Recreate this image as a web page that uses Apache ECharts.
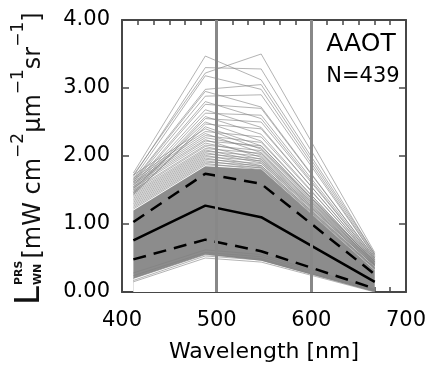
<!DOCTYPE html>
<html><head><meta charset="utf-8">
<script src="https://cdn.jsdelivr.net/npm/echarts@6/dist/echarts.min.js"></script>
<style>html,body{margin:0;padding:0;background:#fff}#c{width:430px;height:370px}</style>
</head><body><div id="c"></div>
<script>
// wavelengths (nm)
const bands = [412, 488, 547, 667];
// mean and +/- 1 std spectra
const meanSpec  = [0.76, 1.27, 1.10, 0.15];
const upperSpec = [1.03, 1.74, 1.59, 0.26];
const lowerSpec = [0.48, 0.77, 0.60, 0.05];
// envelope of the densely overlapping spectra
const denseLow  = [0.20, 0.55, 0.46, 0.00];
const denseHigh = [1.20, 1.85, 1.80, 0.32];
// individual spectra visible outside the dense core  [412, 488, 547, 667]
const spectra = [
  [1.75, 3.47, 3.12, 0.56], [1.72, 3.22, 3.50, 0.58], [1.70, 3.30, 3.28, 0.55],
  [1.66, 3.18, 2.98, 0.52], [1.64, 2.98, 3.05, 0.54], [1.62, 2.95, 2.72, 0.50],
  [1.60, 2.88, 2.90, 0.52], [1.57, 2.80, 2.55, 0.47], [1.55, 2.76, 2.70, 0.50],
  [1.53, 2.68, 2.42, 0.45], [1.50, 2.63, 2.60, 0.49], [1.48, 2.58, 2.32, 0.44],
  [1.46, 2.55, 2.50, 0.48], [1.52, 2.50, 2.22, 0.42], [1.43, 2.47, 2.40, 0.47],
  [1.45, 2.43, 2.15, 0.40],
  [1.72, 2.40, 2.10, 0.45], [1.68, 2.36, 2.28, 0.46], [1.65, 2.33, 2.05, 0.42],
  [1.62, 2.30, 2.20, 0.44], [1.60, 2.27, 2.12, 0.43], [1.58, 2.24, 1.98, 0.40],
  [1.55, 2.22, 2.15, 0.44], [1.53, 2.19, 2.02, 0.41], [1.50, 2.16, 2.08, 0.42],
  [1.48, 2.14, 1.95, 0.39], [1.46, 2.11, 2.04, 0.41], [1.44, 2.09, 1.92, 0.38],
  [1.42, 2.07, 2.00, 0.40], [1.40, 2.05, 1.90, 0.38], [1.38, 2.03, 1.96, 0.39],
  [1.36, 2.01, 1.86, 0.36], [1.34, 1.99, 1.93, 0.38], [1.32, 1.97, 1.84, 0.35],
  [1.30, 1.95, 1.89, 0.36], [1.28, 1.93, 1.82, 0.34], [1.26, 1.91, 1.86, 0.35],
  [1.24, 1.89, 1.80, 0.33], [1.22, 1.87, 1.83, 0.34],
  [0.15, 0.50, 0.44, 0.00], [0.17, 0.53, 0.47, 0.01], [0.20, 0.55, 0.49, 0.02],
  [0.24, 0.58, 0.52, 0.03], [0.28, 0.62, 0.55, 0.04]
];
const refLines = [500, 600];
const stationName = 'AAOT';
const countLabel = 'N=439';

const FONT = 'DejaVu Sans';
const pts = v => bands.map((b, i) => [b, v[i]]);
const series = [];
// dense core: grey area up to the high envelope, white area up to the low envelope
series.push({type:'line', data: pts(denseHigh), symbol:'none', silent:true,
  lineStyle:{opacity:0}, areaStyle:{color:'#8c8c8c', opacity:1}, z:1});
series.push({type:'line', data: pts(denseLow), symbol:'none', silent:true,
  lineStyle:{opacity:0}, areaStyle:{color:'#ffffff', opacity:1}, z:1});
spectra.forEach(s => series.push({type:'line', data: pts(s), symbol:'none', silent:true,
  lineStyle:{color:'#808080', width:1, opacity:0.6}, z:2}));
series.push({type:'line', data: [], symbol:'none', silent:true, z:3,
  markLine:{silent:true, symbol:['none','none'], label:{show:false},
    lineStyle:{color:'#888', width:3, type:'solid'},
    data: refLines.map(x => ({xAxis:x}))}});
series.push({type:'line', data: pts(meanSpec), symbol:'none', silent:true,
  lineStyle:{color:'#000', width:2.5}, z:4});
[upperSpec, lowerSpec].forEach(s => series.push({type:'line', data: pts(s), symbol:'none', silent:true,
  lineStyle:{color:'#000', width:2.5, type:[13, 8]}, z:4}));

const axisCol = '#474747';
const xCommon = {type:'value', min:400, max:700, interval:100,
  axisLine:{show:true, onZero:false, lineStyle:{color:axisCol, width:2}},
  axisTick:{show:true, inside:true, length:6, lineStyle:{color:axisCol, width:1.5}},
  minorTick:{show:true, splitNumber:6, length:5, lineStyle:{color:axisCol, width:1.5}},
  splitLine:{show:false}, minorSplitLine:{show:false}};
const yCommon = {type:'value', min:0, max:4, interval:1,
  axisLine:{show:true, onZero:false, lineStyle:{color:axisCol, width:2}},
  axisTick:{show:true, inside:true, length:7, lineStyle:{color:axisCol, width:1.5}},
  splitLine:{show:false}};

// y-axis title built from measured text pieces
const ctx = document.createElement('canvas').getContext('2d');
const mw = (t, f) => { ctx.font = f; return ctx.measureText(t).width; };
const mainF = '24px "' + FONT + '"', supF = '17px "' + FONT + '"';
const pieces = [['[mW cm', mainF, 6], ['\u22122', supF, -9], ['\u03bcm', mainF, 6],
  ['\u22121', supF, -9], ['sr', mainF, 6], ['\u22121', supF, -9], [']', mainF, 6]];
const titleChildren = [];
const LF = '34px "' + FONT + '"';
titleChildren.push({type:'text', x:0, y:2, style:{text:'L', font:LF, fill:'#111',
  textAlign:'left', textVerticalAlign:'middle', align:'left', verticalAlign:'middle'}});
const lw = mw('L', LF);
const smallF = 'bold 11px "' + FONT + '"';
titleChildren.push({type:'text', x:lw + 1, y:-9, style:{text:'PRS', font:smallF, fill:'#111',
  textAlign:'left', textVerticalAlign:'middle', align:'left', verticalAlign:'middle'}});
titleChildren.push({type:'text', x:lw + 1, y:10, style:{text:'WN', font:smallF, fill:'#111',
  textAlign:'left', textVerticalAlign:'middle', align:'left', verticalAlign:'middle'}});
let px = lw + 1 + Math.max(mw('PRS', smallF), mw('WN', smallF)) + 2;
pieces.forEach(([t, f, dy]) => {
  titleChildren.push({type:'text', x:px, y:dy, style:{text:t, font:f, fill:'#111',
    textAlign:'left', textVerticalAlign:'middle', align:'left', verticalAlign:'middle'}});
  px += mw(t, f);
});

const chart = echarts.init(document.getElementById('c'), null, {renderer:'canvas'});
chart.setOption({
  animation:false,
  backgroundColor:'#fff',
  grid:{left:122, top:20, width:284, height:272},
  xAxis:[
    Object.assign({}, xCommon, {position:'bottom',
      axisLabel:{show:true, fontSize:21, fontFamily:FONT, color:'#000', margin:18},
      name:'Wavelength [nm]', nameLocation:'middle', nameGap:49,
      nameTextStyle:{fontSize:22, fontFamily:FONT, color:'#000'}}),
    Object.assign({}, xCommon, {position:'top', axisLabel:{show:false}})
  ],
  yAxis:[
    Object.assign({}, yCommon, {position:'left',
      axisLabel:{show:true, fontSize:21, fontFamily:FONT, color:'#000', margin:12,
        formatter: v => v.toFixed(2)}}),
    Object.assign({}, yCommon, {position:'right', axisLabel:{show:false}})
  ],
  graphic:[
    {type:'group', x:28, y:305, rotation:Math.PI/2, children:titleChildren},
    {type:'text', x:361, y:44, style:{text:stationName, font:'25px "' + FONT + '"', fill:'#000',
      textAlign:'center', textVerticalAlign:'middle', align:'center', verticalAlign:'middle'}},
    {type:'text', x:363, y:77, style:{text:countLabel, font:'21px "' + FONT + '"', fill:'#000',
      textAlign:'center', textVerticalAlign:'middle', align:'center', verticalAlign:'middle'}}
  ],
  series: series
});
</script></body></html>
